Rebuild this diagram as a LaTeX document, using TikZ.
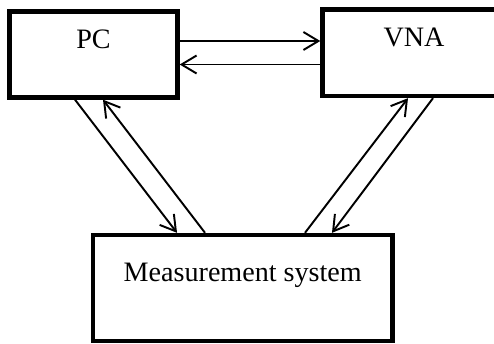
\documentclass[tikz,border=0pt]{standalone}
\usepackage{fontspec}
\setmainfont{Liberation Serif}
\usetikzlibrary{arrows.meta}

\begin{document}
\begin{tikzpicture}[x=0.02cm,y=-0.02cm]
\tikzset{box/.style = {draw, line width=2.5pt, inner sep=0, text height=0.36cm, text depth=0.6cm,
  font=\fontsize{16}{19}\selectfont}}
\tikzset{link/.style = {->, line width=1.1pt, >={Straight Barb[length=3mm,width=3.6mm]}}}
\useasboundingbox (0,0) rectangle (494,344);
\clip (0,0) rectangle (494,344);
% boxes
\node[box, minimum width=3.36cm, minimum height=1.72cm] (pc) at (93.5,54.5) {PC};
\node[box, minimum width=3.66cm, minimum height=1.73cm] (vna) at (414,52.75) {VNA};
\node[box, minimum width=5.99cm, minimum height=2.12cm] (meas) at (242.75,288) {Measurement system};
% links
\draw[link] ([yshift=0.27cm]pc.east) -- ([yshift=0.27cm]pc.east -| vna.west);
\draw[link] ([yshift=-0.2cm]pc.east -| vna.west) -- ([yshift=-0.2cm]pc.east);

\draw[link] ([xshift=-0.37cm]pc.south) -- ([xshift=-1.315cm]meas.north);
\draw[link] ([xshift=-0.755cm]meas.north) -- ([xshift=0.19cm]pc.south);

\draw[link] ([xshift=1.245cm]meas.north) -- ([xshift=-0.12cm]vna.south);
\draw[link] ([xshift=0.38cm]vna.south) -- ([xshift=1.785cm]meas.north);
\end{tikzpicture}
\end{document}
